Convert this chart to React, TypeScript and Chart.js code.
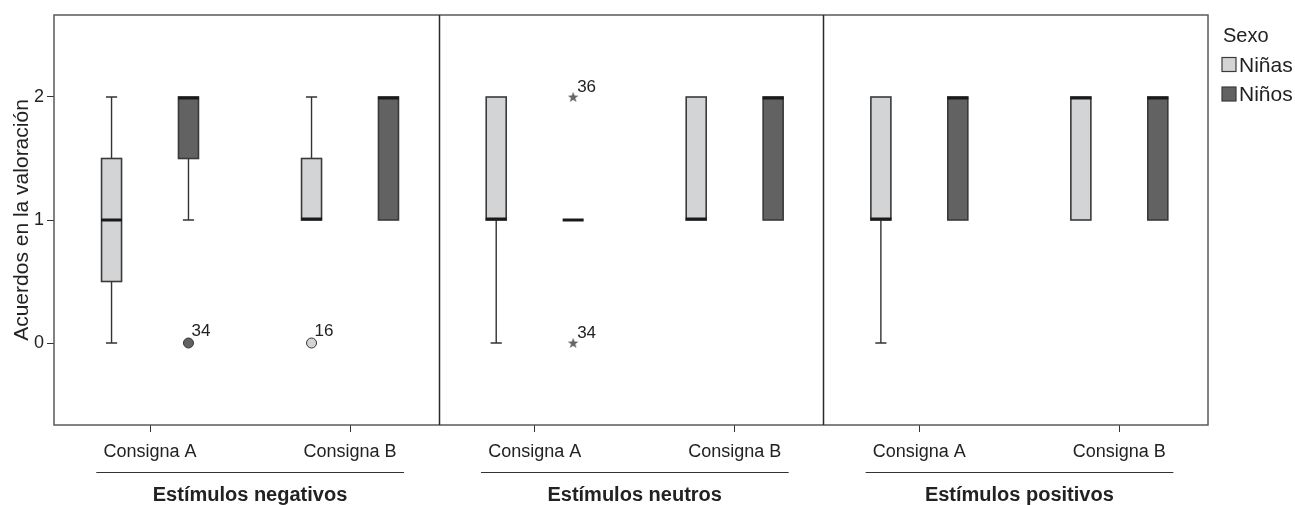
import React, { useEffect, useRef } from 'react';
import { Chart, registerables } from 'chart.js';

Chart.register(...registerables);

// ---- labels ----
const panelTitles = ['Estímulos negativos', 'Estímulos neutros', 'Estímulos positivos'];
const consignaLabels = ['Consigna A', 'Consigna B'];
const sexLabels = ['Niñas', 'Niños'];
const yTickValues = [0, 1, 2];
const yTitle = 'Acuerdos en la valoración';
const legendTitle = 'Sexo';

// ---- box summaries, one entry per (panel, consigna): negA, negB, neuA, neuB, posA, posB ----
const ninasMin = [0, 1, 0, 1, 0, 1];
const ninasQ1 = [0.5, 1, 1, 1, 1, 1];
const ninasMedian = [1, 1, 1, 1, 1, 2];
const ninasQ3 = [1.5, 1.5, 2, 2, 2, 2];
const ninasMax = [2, 2, 2, 2, 2, 2];

const ninosMin = [1, 1, 1, 1, 1, 1];
const ninosQ1 = [1.5, 1, 1, 1, 1, 1];
const ninosMedian = [2, 2, 1, 2, 2, 2];
const ninosQ3 = [2, 2, 1, 2, 2, 2];
const ninosMax = [2, 2, 1, 2, 2, 2];

// ---- outliers / extremes ----
const outlierGroup = [0, 1, 2, 2];
const outlierSex = [1, 0, 1, 1];
const outlierValue = [0, 0, 2, 0];
const outlierCase = ['34', '16', '36', '34'];
const outlierKind = ['circle', 'circle', 'star', 'star'];

// ---- styling / layout constants ----
const FONT = '"Liberation Sans", Arial, Helvetica, sans-serif';
const TEXT = '#222222';
const sexFill = ['#d3d4d6', '#626263'];
const consignaOffset = [0.2496, 0.7695];
const sexOffset = [-0.1, 0.1];
const BOX_HALF = 0.026;
const CAP_HALF = 0.0145;

const groupX = (g: number) => Math.floor(g / 2) + consignaOffset[g % 2];
const tickPositions = [0, 1, 2, 3, 4, 5].map(groupX);

function makeStar(): HTMLCanvasElement {
  const c = document.createElement('canvas');
  c.width = 12;
  c.height = 12;
  const g = c.getContext('2d')!;
  g.fillStyle = '#666666';
  g.beginPath();
  for (let i = 0; i < 10; i++) {
    const r = i % 2 === 0 ? 5.6 : 2.3;
    const a = -Math.PI / 2 + (i * Math.PI) / 5;
    const px = 6 + r * Math.cos(a);
    const py = 6.4 + r * Math.sin(a);
    if (i === 0) g.moveTo(px, py);
    else g.lineTo(px, py);
  }
  g.closePath();
  g.fill();
  return c;
}

const boxPlugin = {
  id: 'boxes',
  beforeDatasetsDraw(chart: any) {
    const { ctx, chartArea, scales } = chart;
    const x = scales.x;
    const y = scales.y;
    ctx.save();
    // frame
    ctx.strokeStyle = '#5a5a5a';
    ctx.lineWidth = 1.5;
    ctx.strokeRect(chartArea.left, chartArea.top, chartArea.right - chartArea.left, chartArea.bottom - chartArea.top);
    // panel separators
    ctx.strokeStyle = '#2a2a2a';
    ctx.lineWidth = 1.5;
    [1, 2].forEach((p) => {
      const px = Math.round(x.getPixelForValue(p)) + 0.5;
      ctx.beginPath();
      ctx.moveTo(px, chartArea.top);
      ctx.lineTo(px, chartArea.bottom);
      ctx.stroke();
    });

    const stats = [
      [ninasMin, ninasQ1, ninasMedian, ninasQ3, ninasMax],
      [ninosMin, ninosQ1, ninosMedian, ninosQ3, ninosMax],
    ];
    for (let g = 0; g < 6; g++) {
      for (let s = 0; s < 2; s++) {
        const [mn, q1, md, q3, mx] = stats[s].map((arr) => arr[g]);
        const cx = groupX(g) + sexOffset[s];
        const xl = x.getPixelForValue(cx - BOX_HALF);
        const xr = x.getPixelForValue(cx + BOX_HALF);
        const xc = x.getPixelForValue(cx);
        const cl = x.getPixelForValue(cx - CAP_HALF);
        const cr = x.getPixelForValue(cx + CAP_HALF);
        const yMin = y.getPixelForValue(mn);
        const yQ1 = y.getPixelForValue(q1);
        const yMd = y.getPixelForValue(md);
        const yQ3 = y.getPixelForValue(q3);
        const yMax = y.getPixelForValue(mx);

        // whiskers
        ctx.strokeStyle = '#333333';
        ctx.lineWidth = 1.4;
        if (mn < q1) {
          ctx.beginPath();
          ctx.moveTo(xc, yQ1);
          ctx.lineTo(xc, yMin);
          ctx.moveTo(cl, yMin);
          ctx.lineTo(cr, yMin);
          ctx.stroke();
        }
        if (mx > q3) {
          ctx.beginPath();
          ctx.moveTo(xc, yQ3);
          ctx.lineTo(xc, yMax);
          ctx.moveTo(cl, yMax);
          ctx.lineTo(cr, yMax);
          ctx.stroke();
        }
        // box
        if (q3 > q1) {
          ctx.fillStyle = sexFill[s];
          ctx.fillRect(xl, yQ3, xr - xl, yQ1 - yQ3);
          ctx.strokeStyle = '#3a3a3a';
          ctx.lineWidth = 1.6;
          ctx.strokeRect(xl, yQ3, xr - xl, yQ1 - yQ3);
        }
        // median
        ctx.strokeStyle = '#1a1a1a';
        ctx.lineWidth = 3;
        const off = md >= q3 && q3 > q1 ? 1 : md <= q1 && q3 > q1 ? -1 : 0;
        ctx.beginPath();
        ctx.moveTo(xl - 0.5, yMd + off);
        ctx.lineTo(xr + 0.5, yMd + off);
        ctx.stroke();
      }
    }
    ctx.restore();
  },
  afterDatasetsDraw(chart: any) {
    const { ctx, scales } = chart;
    ctx.save();
    ctx.fillStyle = TEXT;
    ctx.font = `17px ${FONT}`;
    ctx.textAlign = 'left';
    ctx.textBaseline = 'alphabetic';
    outlierValue.forEach((v, i) => {
      const px = scales.x.getPixelForValue(groupX(outlierGroup[i]) + sexOffset[outlierSex[i]]);
      const py = scales.y.getPixelForValue(v);
      const star = outlierKind[i] === 'star';
      ctx.fillText(outlierCase[i], px + (star ? 4 : 3), py - (star ? 5 : 7));
    });
    ctx.restore();
  },
  afterDraw(chart: any) {
    const { ctx, chartArea, scales } = chart;
    const x = scales.x;
    ctx.save();
    // group lines and titles
    panelTitles.forEach((t, p) => {
      const l = x.getPixelForValue(p + 0.11);
      const r = x.getPixelForValue(p + 0.91);
      const yl = chartArea.bottom + 47.5;
      ctx.strokeStyle = '#333333';
      ctx.lineWidth = 1;
      ctx.beginPath();
      ctx.moveTo(l, yl);
      ctx.lineTo(r, yl);
      ctx.stroke();
      ctx.fillStyle = TEXT;
      ctx.font = `bold 20px ${FONT}`;
      ctx.textAlign = 'center';
      ctx.textBaseline = 'alphabetic';
      const c = x.getPixelForValue(p + (consignaOffset[0] + consignaOffset[1]) / 2);
      ctx.fillText(t, c, chartArea.bottom + 76);
    });
    // legend
    const lx = chartArea.right + 15;
    ctx.fillStyle = TEXT;
    ctx.textAlign = 'left';
    ctx.font = `20px ${FONT}`;
    ctx.fillText(legendTitle, lx, chartArea.top + 27);
    sexLabels.forEach((lab, i) => {
      const by = chartArea.top + 42.5 + i * 29.5;
      ctx.fillStyle = sexFill[i];
      ctx.fillRect(lx - 1, by, 14, 14);
      ctx.strokeStyle = '#3a3a3a';
      ctx.lineWidth = 1.2;
      ctx.strokeRect(lx - 1, by, 14, 14);
      ctx.fillStyle = TEXT;
      ctx.font = `21px ${FONT}`;
      ctx.fillText(lab, lx + 16, by + 14);
    });
    ctx.restore();
  },
};

export default function App() {
  const ref = useRef<HTMLCanvasElement | null>(null);
  useEffect(() => {
    if (!ref.current) return;
    const star = makeStar();
    const points = outlierValue.map((v, i) => ({
      x: groupX(outlierGroup[i]) + sexOffset[outlierSex[i]],
      y: v,
    }));
    const chart = new Chart(ref.current, {
      type: 'scatter',
      data: {
        datasets: [
          {
            label: 'Atípicos',
            data: points,
            pointStyle: outlierKind.map((k) => (k === 'star' ? star : 'circle')) as any,
            pointRadius: 5,
            backgroundColor: outlierSex.map((s) => sexFill[s]),
            borderColor: '#333333',
            borderWidth: 1,
          },
        ],
      },
      options: {
        animation: false,
        responsive: false,
        devicePixelRatio: 1,
        events: [],
        layout: { padding: { top: 15, right: 87, left: 0, bottom: 0 } },
        plugins: { legend: { display: false }, tooltip: { enabled: false } },
        scales: {
          x: {
            type: 'linear',
            min: 0,
            max: 3,
            offset: false,
            border: { display: false },
            grid: { drawOnChartArea: false, drawTicks: true, tickLength: 7, color: '#333333' },
            afterBuildTicks: (axis: any) => {
              axis.ticks = tickPositions.map((v) => ({ value: v }));
            },
            afterFit: (s: any) => {
              s.height = 80;
            },
            ticks: {
              autoSkip: false,
              maxRotation: 0,
              minRotation: 0,
              padding: 9,
              color: TEXT,
              font: { family: FONT, size: 18 },
              callback: (_v: any, i: number) => consignaLabels[i % 2],
            },
          },
          y: {
            type: 'linear',
            min: -2 / 3,
            max: 8 / 3,
            border: { display: false },
            grid: { drawOnChartArea: false, drawTicks: true, tickLength: 7, color: '#333333' },
            afterBuildTicks: (axis: any) => {
              axis.ticks = yTickValues.map((v) => ({ value: v }));
            },
            afterFit: (s: any) => {
              s.width = 54;
            },
            ticks: {
              padding: 3,
              color: TEXT,
              font: { family: FONT, size: 18 },
              callback: (v: any) => String(v),
            },
            title: {
              display: true,
              text: yTitle,
              color: TEXT,
              font: { family: FONT, size: 21 },
              padding: { top: 10, bottom: 0 },
            },
          },
        },
      },
      plugins: [boxPlugin],
    });
    return () => chart.destroy();
  }, []);
  return (
    <div style={{ position: 'absolute', left: 0, top: 0, width: 1295, height: 505, background: '#fff' }}>
      <canvas ref={ref} width={1295} height={505} style={{ display: 'block' }} />
    </div>
  );
}
